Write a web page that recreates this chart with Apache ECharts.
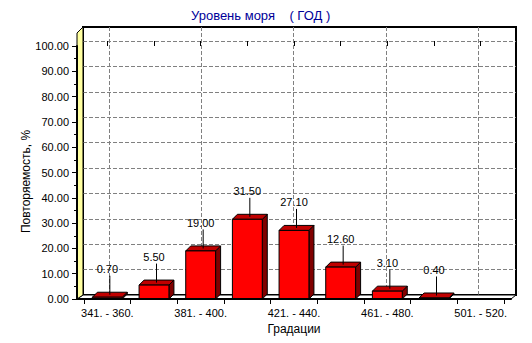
<!DOCTYPE html>
<html>
<head>
<meta charset="utf-8">
<script src="https://cdn.jsdelivr.net/npm/echarts@6/dist/echarts.min.js"></script>
<style>
  html, body { margin: 0; padding: 0; background: #fff; }
  #chart { width: 532px; height: 343px; }
</style>
</head>
<body>
<div id="chart"></div>
<script>
// Texts
const chartTitle = 'Уровень моря    ( ГОД )';
const xAxisName = 'Градации';
const yAxisName = 'Повторяемость, %';

// Sea level gradations and their frequency, %
const categories = [
  '341. - 360.', '361. - 380.', '381. - 400.', '401. - 420.', '421. - 440.',
  '441. - 460.', '461. - 480.', '481. - 500.', '501. - 520.'
];
const frequency = [0.70, 5.50, 19.00, 31.50, 27.10, 12.60, 3.10, 0.40, null];

// Value axis range and step
const yMin = 0;
const yMax = 100;
const yStep = 10;

const FONT = '"Liberation Sans", Arial, sans-serif';
const DEPTH = 5;          // 3D depth of the bars, px
const LEADER = 19;        // length of the value leader line, px
const gridDash = () => ({ color: '#808080', width: 1, type: 'dashed', dashOffset: 0 });

const barData = frequency
  .map((v, i) => [i, v])
  .filter((p) => p[1] != null);

// 3D bar: right side, top face, front face, then a leader line up to the value
function renderBar(params, api) {
  const v = api.value(1);
  const base = api.coord([api.value(0), 0]);
  const top = api.coord([api.value(0), v]);
  const w = api.size([1, 0])[0] * 0.64;
  const x0 = base[0] - w / 2;
  const x1 = x0 + w;
  const yb = base[1];
  const yt = top[1];
  const d = DEPTH;
  const edge = { stroke: '#000', lineWidth: 1 };
  const lx = base[0] + d / 2;
  const ly0 = yt - d / 2;
  return {
    type: 'group',
    children: [
      { type: 'polygon', shape: { points: [[x1, yb], [x1, yt], [x1 + d, yt - d], [x1 + d, yb - d]] },
        style: Object.assign({ fill: '#800000' }, edge) },
      { type: 'polygon', shape: { points: [[x0, yt], [x0 + d, yt - d], [x1 + d, yt - d], [x1, yt]] },
        style: Object.assign({ fill: '#c00000' }, edge) },
      { type: 'rect', shape: { x: x0, y: yt, width: w, height: yb - yt },
        style: Object.assign({ fill: '#ff0000' }, edge) },
      { type: 'line', shape: { x1: lx, y1: ly0, x2: lx, y2: ly0 - LEADER },
        style: { stroke: '#000', lineWidth: 1 } }
    ]
  };
}

const chart = echarts.init(document.getElementById('chart'), null, { renderer: 'svg' });

chart.setOption({
  animation: false,
  backgroundColor: '#fff',
  color: ['#000000'],
  textStyle: { fontFamily: FONT },
  title: {
    text: chartTitle,
    left: 191,
    top: 0,
    padding: [9, 0, 0, 0],
    textStyle: { color: '#000099', fontSize: 13, fontWeight: 'normal', fontFamily: FONT }
  },
  grid: [
    // front: value axis and floor edge
    { left: 77, top: 46, width: 434, height: 253, outerBoundsMode: 'none' },
    // bars
    { left: 84, top: 46, width: 420, height: 253, outerBoundsMode: 'none' },
    // back wall: horizontal grid lines
    { left: 83, top: 41, width: 433, height: 254, outerBoundsMode: 'none' },
    // back wall: vertical grid lines
    { left: 109, top: 27, width: 369, height: 268, outerBoundsMode: 'none' }
  ],
  xAxis: [
    { gridIndex: 0, type: 'value', min: 0, max: 1,
      axisLine: { show: true, lineStyle: { color: '#000', width: 2 } },
      axisTick: { show: false }, axisLabel: { show: false }, splitLine: { show: false }, z: 4 },
    { gridIndex: 1, type: 'category', data: categories, boundaryGap: true,
      axisLine: { show: false },
      axisTick: { show: true, interval: 0, length: 5, lineStyle: { color: '#000' } },
      axisLabel: { interval: 1, margin: 8, fontSize: 11, color: '#000', fontFamily: FONT },
      splitLine: { show: false },
      name: xAxisName, nameLocation: 'middle', nameGap: 24, nameMoveOverlap: false,
      nameTextStyle: { fontSize: 12, color: '#000', fontFamily: FONT }, z: 4 },
    { gridIndex: 1, type: 'category', data: categories, boundaryGap: true,
      axisLine: { show: false },
      axisTick: { show: true, interval: 0, alignWithLabel: true, length: 5, lineStyle: { color: '#000' } },
      axisLabel: { show: false }, splitLine: { show: false }, z: 4 },
    { gridIndex: 2, type: 'value', min: 0, max: 1,
      axisLine: { show: false }, axisTick: { show: false }, axisLabel: { show: false }, splitLine: { show: false } },
    { gridIndex: 3, type: 'category', data: categories, boundaryGap: false,
      axisLine: { show: false }, axisTick: { show: false }, axisLabel: { show: false },
      splitLine: { show: true, interval: 1, lineStyle: gridDash() } }
  ],
  yAxis: [
    { gridIndex: 0, type: 'value', min: yMin, max: yMax, interval: yStep, offset: 1,
      axisLine: { show: true, lineStyle: { color: '#000', width: 2 } },
      axisTick: { show: true, length: 5, lineStyle: { color: '#000' } },
      minorTick: { show: true, splitNumber: 2, length: 3, lineStyle: { color: '#000' } },
      axisLabel: { formatter: (v) => v.toFixed(2), margin: 7, fontSize: 11, color: '#000', fontFamily: FONT,
                   showMinLabel: true, showMaxLabel: true },
      splitLine: { show: false },
      name: yAxisName, nameLocation: 'middle', nameGap: 44, nameMoveOverlap: false,
      nameTextStyle: { fontSize: 12, color: '#000', fontFamily: FONT, padding: [0, 18, 0, 0] }, z: 4 },
    { gridIndex: 1, type: 'value', min: yMin, max: yMax,
      axisLine: { show: false }, axisTick: { show: false }, axisLabel: { show: false }, splitLine: { show: false } },
    { gridIndex: 2, type: 'value', min: yMin, max: yMax, interval: yStep,
      axisLine: { show: false }, axisTick: { show: false }, axisLabel: { show: false },
      splitLine: { show: true, showMinLine: false, lineStyle: gridDash() } },
    { gridIndex: 3, type: 'value', min: yMin, max: yMax,
      axisLine: { show: false }, axisTick: { show: false }, axisLabel: { show: false }, splitLine: { show: false } }
  ],
  graphic: [
    // back wall outline
    { type: 'rect', z: 0, silent: true, shape: { x: 83, y: 27, width: 433, height: 268 },
      style: { fill: 'none', stroke: '#000', lineWidth: 2 } },
    // floor
    { type: 'polygon', z: 2, silent: true, shape: { points: [[77, 299], [83, 295], [516, 295], [511, 299]] },
      style: { fill: '#fff', stroke: '#000', lineWidth: 1 } },
    // left wall
    { type: 'polygon', z: 2, silent: true, shape: { points: [[77, 299], [77, 33], [83, 27], [83, 295]] },
      style: { fill: '#ffffa0', stroke: '#000', lineWidth: 1 } }
  ],
  series: [
    {
      type: 'custom',
      name: yAxisName,
      xAxisIndex: 1,
      yAxisIndex: 1,
      z: 3,
      clip: false,
      renderItem: renderBar,
      data: barData
    },
    {
      // value labels above the leader lines
      type: 'scatter',
      xAxisIndex: 1,
      yAxisIndex: 1,
      z: 5,
      silent: true,
      symbolSize: 0,
      itemStyle: { color: '#000', opacity: 1 },
      data: barData,
      label: {
        show: true,
        position: 'top',
        distance: DEPTH / 2 + LEADER + 1,
        offset: [1, 0],
        formatter: (p) => p.value[1].toFixed(2),
        color: '#000',
        textBorderWidth: 0,
        textBorderColor: 'transparent',
        textShadowBlur: 0,
        fontSize: 11,
        fontFamily: FONT
      },
      labelLayout: { hideOverlap: false }
    }
  ]
});
</script>
</body>
</html>
